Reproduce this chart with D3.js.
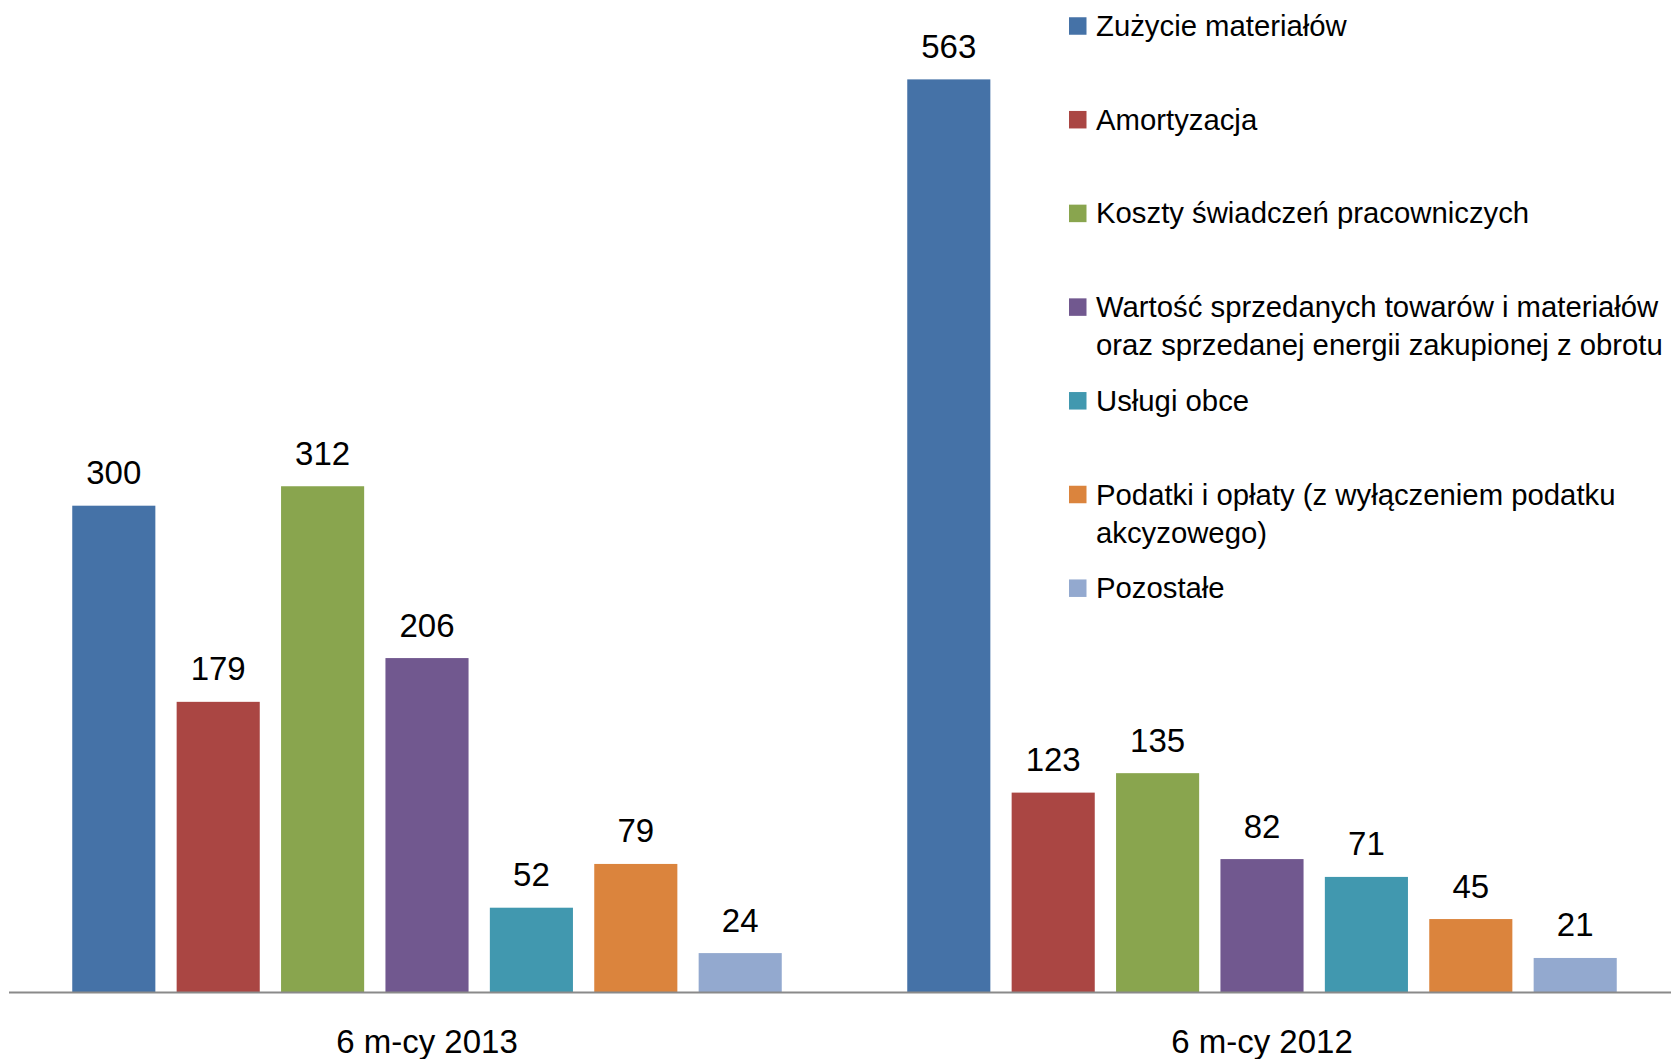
<!DOCTYPE html>
<head>
    <meta charset="utf-8">
    <title>Koszty rodzajowe</title>
    <script src='https://d3js.org/d3.v7.min.js'></script>
</head>
<style>
body {
    margin: 0;
    background: #fff;
    font-family: 'Liberation Sans', Arial, sans-serif;
}

text {
    fill: #000;
}
</style>
<body>
    <svg></svg>
</body>

<script>
    // Chart data
    var categories = ['6 m-cy 2013', '6 m-cy 2012'];
    var seriesNames = [
        'Zużycie materiałów',
        'Amortyzacja',
        'Koszty świadczeń pracowniczych',
        'Wartość sprzedanych towarów i materiałów\noraz sprzedanej energii zakupionej z obrotu',
        'Usługi obce',
        'Podatki i opłaty (z wyłączeniem podatku\nakcyzowego)',
        'Pozostałe'
    ];
    var values2013 = [300, 179, 312, 206, 52, 79, 24];
    var values2012 = [563, 123, 135, 82, 71, 45, 21];
    var seriesColors = ['#4572A7', '#AA4643', '#89A54E', '#71588F', '#4198AF', '#DB843D', '#93A9CF'];

    var vWidth = 1671;
    var vHeight = 1059;

    var svg = d3.select('svg')
        .attr('width', vWidth)
        .attr('height', vHeight);

    // Scales
    var x0 = d3.scaleBand().domain(categories).range([9.5, 1679.5]).padding(0);
    var x1 = d3.scaleBand().domain(d3.range(seriesNames.length))
        .range([62.75, x0.bandwidth() - 62.75])
        .paddingInner(0.204).paddingOuter(0);
    var y = d3.scaleLinear().domain([0, 600]).range([992, 19.4]);

    var vRows = [values2013, values2012];

    // Bars, one group per category
    var groups = svg.selectAll('g.cat').data(categories).enter().append('g')
        .attr('class', 'cat')
        .attr('transform', function (d) { return 'translate(' + x0(d) + ',0)'; });

    groups.selectAll('rect')
        .data(function (d, i) { return vRows[i].map(function (v, j) { return { s: j, v: v }; }); })
        .enter().append('rect')
        .attr('x', function (d) { return x1(d.s); })
        .attr('width', x1.bandwidth())
        .attr('y', function (d) { return y(d.v); })
        .attr('height', function (d) { return y(0) - y(d.v); })
        .style('fill', function (d) { return seriesColors[d.s]; });

    // Value labels above bars
    groups.selectAll('text.val')
        .data(function (d, i) { return vRows[i].map(function (v, j) { return { s: j, v: v }; }); })
        .enter().append('text')
        .attr('class', 'val')
        .attr('x', function (d) { return x1(d.s) + x1.bandwidth() / 2; })
        .attr('y', function (d) { return y(d.v) - 21.5; })
        .attr('text-anchor', 'middle')
        .style('font-size', '33px')
        .text(function (d) { return d.v; });

    // Category axis
    svg.append('line')
        .attr('x1', 9).attr('x2', vWidth)
        .attr('y1', y(0) + 0.5).attr('y2', y(0) + 0.5)
        .style('stroke', '#8a8a8a')
        .style('stroke-width', 2);

    svg.selectAll('text.cat').data(categories).enter().append('text')
        .attr('class', 'cat')
        .attr('x', function (d) { return x0(d) + x0.bandwidth() / 2; })
        .attr('y', 1053)
        .attr('text-anchor', 'middle')
        .style('font-size', '33px')
        .text(function (d) { return d; });

    // Legend
    var legend = svg.append('g').attr('transform', 'translate(1069,0)');
    var items = legend.selectAll('g').data(seriesNames).enter().append('g')
        .attr('transform', function (d, i) { return 'translate(0,' + (26 + i * 93.7) + ')'; });

    items.append('rect')
        .attr('x', 0).attr('y', -8.75)
        .attr('width', 17.5).attr('height', 17.5)
        .style('fill', function (d, i) { return seriesColors[i]; });

    items.append('text')
        .attr('x', 27)
        .attr('y', 10)
        .style('font-size', '29.3px')
        .selectAll('tspan').data(function (d) { return d.split('\n'); }).enter().append('tspan')
        .attr('x', 27)
        .attr('dy', function (d, i) { return i ? 38 : 0; })
        .text(function (d) { return d; });
</script>
